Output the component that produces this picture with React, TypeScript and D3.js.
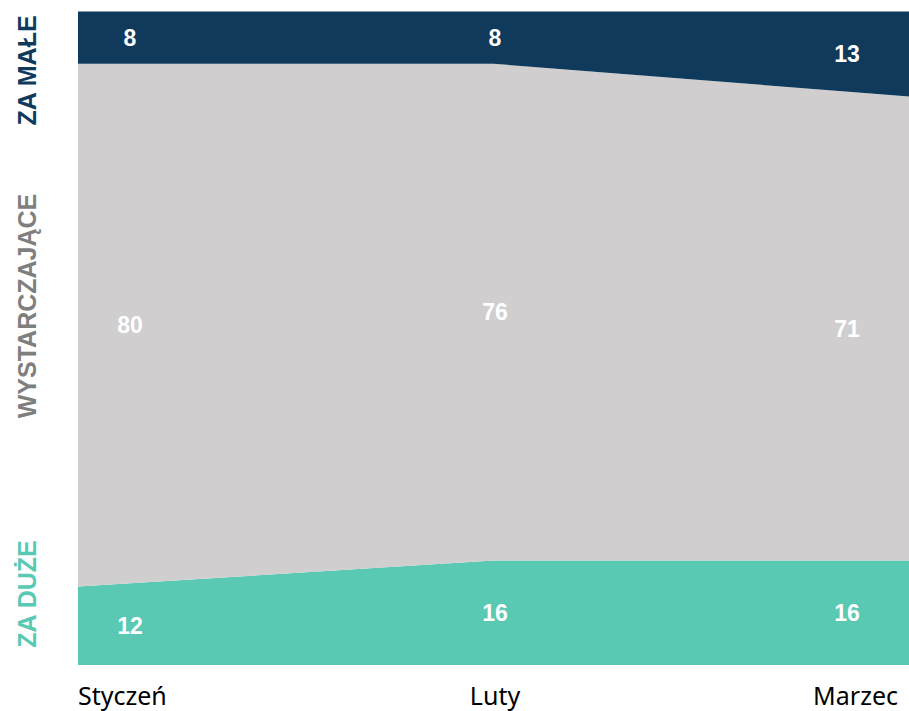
import React from "react";
import * as d3 from "d3";

const categories = ["Styczeń", "Luty", "Marzec"];
const seriesNames = ["ZA DUŻE", "WYSTARCZAJĄCE", "ZA MAŁE"];
const zaDuze = [12, 16, 16];
const wystarczajace = [80, 76, 71];
const zaMale = [8, 8, 13];

const W = 909;
const H = 711;
const left = 78;
const right = 909;
const top = 11.5;
const bottom = 665;

const fills = ["#59c9b3", "#d0cecf", "#0f3a5c"];
const nameColors = ["#59c9b3", "#7f7f7f", "#0f3a5c"];
const labelOffsets = [52, 1.5, -62];

export default function App() {
  const rows = categories.map((c, i) => ({
    cat: c,
    s0: zaDuze[i],
    s1: wystarczajace[i],
    s2: zaMale[i],
  }));
  const stack = d3.stack<any>().keys(["s0", "s1", "s2"]);
  const series = stack(rows);

  const x = d3.scalePoint<string>().domain(categories).range([left, right]);
  const y = d3.scaleLinear().domain([0, 100]).range([bottom, top]);

  const area = d3
    .area<any>()
    .x((d) => x(d.data.cat) as number)
    .y0((d) => y(d[0]))
    .y1((d) => y(d[1]));

  const nameY = [594, 306, 70.5];

  return (
    <svg
      width={W}
      height={H}
      style={{ position: "absolute", left: 0, top: 0 }}
    >
      {series.map((s, i) => (
        <path key={i} d={area(s) as string} fill={fills[i]} />
      ))}
      {series.map((s, i) =>
        s.map((d, j) => (
          <text
            key={`${i}-${j}`}
            x={(x(categories[j]) as number) + labelOffsets[j]}
            y={(y(d[0]) + y(d[1])) / 2}
            dy="0.36em"
            textAnchor="middle"
            fill="#ffffff"
            fontFamily="Liberation Sans, Arial, sans-serif"
            fontWeight="bold"
            fontSize={23}
          >
            {d[1] - d[0]}
          </text>
        ))
      )}
      {seriesNames.map((n, i) => (
        <text
          key={n}
          transform={`translate(${36},${nameY[i]}) rotate(-90)`}
          textAnchor="middle"
          fill={nameColors[i]}
          fontFamily="Liberation Sans, Arial, sans-serif"
          fontWeight="bold"
          fontSize={25}
        >
          {n}
        </text>
      ))}
      {categories.map((c, j) => (
        <text
          key={c}
          x={j === 0 ? left : j === categories.length - 1 ? 898 : (x(c) as number) + 1.5}
          y={705}
          textAnchor={j === 0 ? "start" : j === categories.length - 1 ? "end" : "middle"}
          fill="#000000"
          fontFamily="Noto Sans, sans-serif"
          fontSize={25}
        >
          {c}
        </text>
      ))}
    </svg>
  );
}
